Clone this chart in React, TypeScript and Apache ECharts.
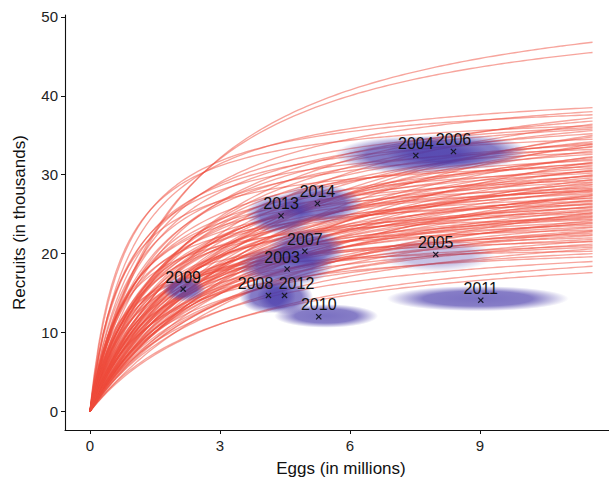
import React, { useEffect, useRef } from "react";
import * as echarts from "echarts";

// Years with observed eggs (millions) and recruits (thousands)
const years = ["2003", "2004", "2005", "2006", "2007", "2008", "2009", "2010", "2011", "2012", "2013", "2014"];
const eggs = [4.55, 7.52, 7.98, 8.39, 4.96, 4.12, 2.15, 5.28, 9.02, 4.49, 4.41, 5.25];
const recruits = [18.05, 32.45, 19.9, 32.95, 20.3, 14.7, 15.5, 12.0, 14.1, 14.7, 24.8, 26.35];
// Uncertainty clouds: centre, half-extent in data units and relative density
const cloudEggs = [4.5, 7.45, 8.0, 8.45, 5.0, 4.1, 2.17, 5.45, 8.95, 4.5, 4.4, 5.3];
const cloudRecruits = [18.4, 32.5, 19.8, 32.9, 20.6, 14.6, 15.5, 12.1, 14.3, 14.5, 25.0, 26.3];
const spreadEggs = [1.1, 1.8, 1.35, 1.65, 0.9, 0.65, 0.5, 1.2, 2.1, 0.65, 0.8, 1.0];
const spreadRecruits = [2.6, 2.4, 2.1, 2.3, 2.6, 2.2, 1.6, 1.5, 1.6, 2.2, 2.6, 2.5];
const cloudDensity = [1, 1, 0.45, 1, 1, 1, 1, 1, 1, 1, 1, 1];

// Beverton-Holt posterior curves: recruits at the last eggs value and half-saturation eggs
const curveEndEggs = 11.6;
const curveEndRecruits = [
  46.8, 45.5, 38.5, 38.0, 37.6, 37.2, 36.8, 36.4, 36.0, 36.2,
  35.6, 35.2, 34.8, 34.5, 34.2, 35.0, 33.8, 33.5, 33.2, 33.0,
  32.6, 32.3, 32.0, 33.9, 31.8, 31.5, 31.2, 31.0, 30.8, 30.5,
  30.2, 30.0, 31.6, 29.8, 29.6, 29.3, 29.0, 28.8, 28.5, 28.3,
  28.1, 29.4, 28.0, 27.8, 27.6, 27.3, 27.0, 26.8, 26.6, 26.4,
  26.2, 26.0, 27.4, 25.8, 25.6, 25.3, 25.0, 24.8, 24.6, 24.4,
  24.2, 25.2, 24.0, 23.8, 23.6, 23.3, 23.0, 22.8, 22.6, 22.3,
  22.0, 21.8, 21.5, 21.2, 21.0, 20.6, 20.3, 20.0, 19.6, 19.0,
  18.4, 17.6, 35.8, 34.0, 33.6, 32.8, 32.2, 31.4, 30.6, 30.4,
  29.9, 29.1, 28.7, 28.2, 27.9, 27.5, 27.1, 26.7, 26.3, 25.9,
  25.5, 25.1, 24.7, 24.3, 23.9, 23.4, 22.9, 22.4, 21.6, 20.8,
];
const curveHalfEggs = [
  2.2, 2.0, 1.0, 1.4, 0.8, 2.5, 1.8, 3.2, 1.1, 0.7,
  2.2, 1.5, 3.8, 0.9, 2.8, 4.5, 1.3, 2.0, 0.8, 3.0,
  1.7, 4.2, 2.4, 5.0, 1.2, 2.1, 3.4, 0.7, 1.9, 2.7,
  1.4, 4.0, 5.5, 1.6, 2.3, 1.0, 3.1, 1.8, 2.6, 0.9,
  3.6, 4.6, 1.3, 2.0, 1.5, 2.9, 1.1, 3.9, 1.7, 2.4,
  0.8, 3.3, 4.8, 1.4, 2.2, 1.0, 3.0, 1.8, 2.6, 0.7,
  4.1, 5.2, 1.5, 2.0, 1.2, 2.8, 0.9, 3.5, 1.6, 2.3,
  1.0, 1.8, 0.8, 2.6, 1.3, 3.2, 0.6, 2.0, 1.4, 2.4,
  3.5, 3.0, 1.3, 1.9, 3.5, 1.0, 2.9, 1.6, 3.7, 1.1,
  2.5, 1.4, 3.3, 2.1, 1.0, 3.6, 2.3, 1.2, 2.7, 1.9,
  3.4, 1.2, 2.1, 1.4, 3.1, 1.7, 2.5, 1.3, 2.9, 1.6,
];

const xTicks = [0, 3, 6, 9];
const yTicks = [0, 10, 20, 30, 40, 50];
const xTitle = "Eggs (in millions)";
const yTitle = "Recruits (in thousands)";

const FONT = "'Liberation Sans', Arial, Helvetica, sans-serif";
const labelNudge: Record<string, number> = { "2003": -5, "2008": -13, "2012": 12 };

function makeCloudFill(d: number) {
  return new echarts.graphic.RadialGradient(0.5, 0.5, 0.5, [
    { offset: 0, color: `rgba(72,58,170,${0.72 * d})` },
    { offset: 0.6, color: `rgba(72,58,170,${0.66 * d})` },
    { offset: 0.82, color: `rgba(72,58,170,${0.3 * d})` },
    { offset: 1, color: "rgba(72,58,170,0)" },
  ]);
}

export default function App() {
  const ref = useRef<HTMLDivElement>(null);

  useEffect(() => {
    if (!ref.current) return;
    const chart = echarts.init(ref.current, null, { renderer: "svg" });

    const sampleEggs: number[] = [0, 0.02, 0.05];
    for (let i = 1; i <= 116; i++) sampleEggs.push(i / 10);

    const curveSeries = curveEndRecruits.map((end, i) => {
      const k = curveHalfEggs[i];
      const rmax = (end * (k + curveEndEggs)) / curveEndEggs;
      return {
        type: "line",
        data: sampleEggs.map((s) => [s, (rmax * s) / (k + s)]),
        showSymbol: false,
        symbol: "none",
        silent: true,
        z: 2,
        lineStyle: { color: "rgb(240,76,60)", width: 1.35, opacity: 0.5 },
      };
    });

    const option: any = {
      animation: false,
      backgroundColor: "#ffffff",
      grid: { left: 65, right: 0, top: 15, bottom: 48 },
      xAxis: {
        type: "value",
        min: -0.577,
        max: 11.98,
        name: xTitle,
        nameLocation: "middle",
        nameGap: 30,
        nameTextStyle: { fontSize: 17, color: "#111", fontFamily: FONT, padding: [0, 0, 0, 8] },
        axisLine: { show: true, onZero: false, lineStyle: { color: "#111", width: 1.1 } },
        axisTick: { show: true, length: 4, customValues: xTicks, lineStyle: { color: "#111" } },
        axisLabel: { customValues: xTicks, margin: 8, fontSize: 15, color: "#222", fontFamily: FONT },
        splitLine: { show: false },
      },
      yAxis: {
        type: "value",
        min: -2.36,
        max: 50.25,
        name: yTitle,
        nameLocation: "middle",
        nameGap: 37,
        nameTextStyle: { fontSize: 17, color: "#111", fontFamily: FONT },
        axisLine: { show: true, onZero: false, lineStyle: { color: "#111", width: 1.1 } },
        axisTick: { show: true, length: 4, customValues: yTicks, lineStyle: { color: "#111" } },
        axisLabel: { customValues: yTicks, margin: 7, fontSize: 15, color: "#222", fontFamily: FONT },
        splitLine: { show: false },
      },
      series: [
        ...curveSeries,
        {
          type: "custom",
          silent: true,
          z: 3,
          data: years.map((_, i) => [cloudEggs[i], cloudRecruits[i], spreadEggs[i], spreadRecruits[i], cloudDensity[i]]),
          renderItem: (_params: any, api: any) => {
            const c = api.coord([api.value(0), api.value(1)]);
            const s = api.size([api.value(2), api.value(3)]);
            return {
              type: "ellipse",
              shape: { cx: c[0], cy: c[1], rx: s[0], ry: s[1] },
              style: { fill: makeCloudFill(api.value(4)) },
            };
          },
        },
        {
          type: "custom",
          silent: true,
          z: 5,
          data: years.map((_, i) => [eggs[i], recruits[i]]),
          renderItem: (params: any, api: any) => {
            const i = params.dataIndex;
            const c = api.coord([api.value(0), api.value(1)]);
            const h = 2.6;
            const st = { stroke: "#1a1a2a", lineWidth: 1.2 };
            return {
              type: "group",
              children: [
                { type: "line", shape: { x1: c[0] - h, y1: c[1] - h, x2: c[0] + h, y2: c[1] + h }, style: st },
                { type: "line", shape: { x1: c[0] - h, y1: c[1] + h, x2: c[0] + h, y2: c[1] - h }, style: st },
                {
                  type: "text",
                  x: c[0] + (labelNudge[years[i]] || 0),
                  y: c[1] - 4,
                  style: {
                    text: years[i],
                    fontSize: 16,
                    fontFamily: FONT,
                    fill: "#111",
                    align: "center",
                    verticalAlign: "bottom",
                  },
                },
              ],
            };
          },
        },
      ],
    };

    chart.setOption(option);
    return () => chart.dispose();
  }, []);

  return (
    <div
      ref={ref}
      style={{ position: "fixed", left: 0, top: 0, width: 609, height: 482, background: "#fff" }}
    />
  );
}
